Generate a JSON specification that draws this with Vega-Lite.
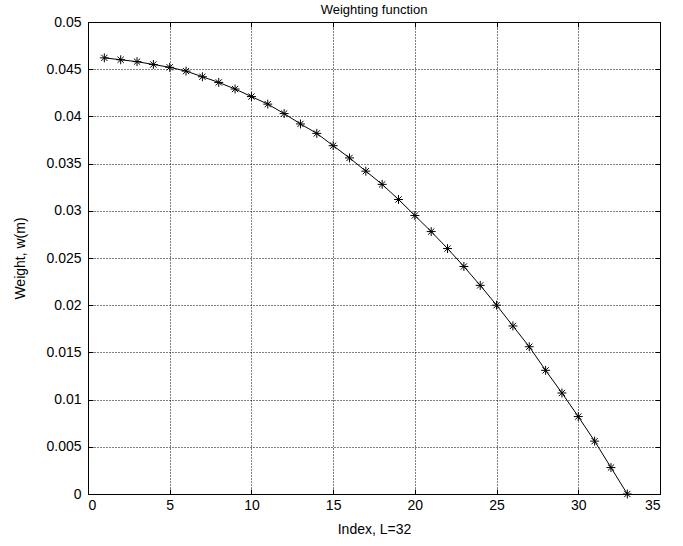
{
  "$schema": "https://vega.github.io/schema/vega-lite/v6.json",
  "width": 572,
  "height": 472,
  "autosize": {"type": "none"},
  "padding": {"left": 88, "top": 22, "right": 23, "bottom": 52},
  "background": "white",
  "title": {"text": "Weighting function", "font": "Liberation Sans", "fontSize": 13, "fontWeight": "normal", "color": "black", "offset": -2},
  "config": {
    "view": {"stroke": "black", "strokeWidth": 1},
    "axis": {
      "labelFont": "Liberation Sans", "labelFontSize": 14, "labelColor": "black",
      "titleFont": "Liberation Sans", "titleFontSize": 14, "titleFontWeight": "normal", "titleColor": "black",
      "domainColor": "black", "tickColor": "black", "tickSize": -5,
      "gridColor": "black", "gridDash": [1, 2], "gridOpacity": 1, "gridWidth": 1
    }
  },
  "resolve": {"axis": {"x": "independent", "y": "independent"}},
  "data": {"values": [
    {"m": 1, "w": 0.0462}, {"m": 2, "w": 0.0460}, {"m": 3, "w": 0.0458}, {"m": 4, "w": 0.0455},
    {"m": 5, "w": 0.0452}, {"m": 6, "w": 0.0448}, {"m": 7, "w": 0.0442}, {"m": 8, "w": 0.0436},
    {"m": 9, "w": 0.0429}, {"m": 10, "w": 0.0421}, {"m": 11, "w": 0.0413}, {"m": 12, "w": 0.0403},
    {"m": 13, "w": 0.0392}, {"m": 14, "w": 0.0382}, {"m": 15, "w": 0.0369}, {"m": 16, "w": 0.0356},
    {"m": 17, "w": 0.0342}, {"m": 18, "w": 0.0328}, {"m": 19, "w": 0.0312}, {"m": 20, "w": 0.0295},
    {"m": 21, "w": 0.0278}, {"m": 22, "w": 0.0260}, {"m": 23, "w": 0.0241}, {"m": 24, "w": 0.0221},
    {"m": 25, "w": 0.0200}, {"m": 26, "w": 0.0178}, {"m": 27, "w": 0.0156}, {"m": 28, "w": 0.0131},
    {"m": 29, "w": 0.0107}, {"m": 30, "w": 0.0082}, {"m": 31, "w": 0.0056}, {"m": 32, "w": 0.0028},
    {"m": 33, "w": 0.0}
  ]},
  "layer": [
    {
      "mark": {"type": "line", "color": "black", "strokeWidth": 1},
      "encoding": {
        "x": {"field": "m", "type": "quantitative", "scale": {"domain": [0, 35], "nice": false},
              "axis": {"title": "Index, L=32", "grid": true, "values": [0, 5, 10, 15, 20, 25, 30, 35], "labelPadding": 9, "titlePadding": 10}},
        "y": {"field": "w", "type": "quantitative", "scale": {"domain": [0, 0.05], "nice": false},
              "axis": {"title": "Weight, w(m)", "grid": true, "values": [0, 0.005, 0.01, 0.015, 0.02, 0.025, 0.03, 0.035, 0.04, 0.045, 0.05], "format": "~g", "labelPadding": 12, "titlePadding": 18}}
      }
    },
    {
      "mark": {"type": "point", "shape": "M-1,0L1,0M0,-1L0,1M-0.7,-0.7L0.7,0.7M-0.7,0.7L0.7,-0.7", "filled": false, "stroke": "black", "strokeWidth": 1, "size": 80, "opacity": 1},
      "encoding": {
        "x": {"field": "m", "type": "quantitative", "scale": {"domain": [0, 35], "nice": false},
              "axis": {"orient": "top", "title": null, "labels": false, "grid": false, "values": [0, 5, 10, 15, 20, 25, 30, 35]}},
        "y": {"field": "w", "type": "quantitative", "scale": {"domain": [0, 0.05], "nice": false},
              "axis": {"orient": "right", "title": null, "labels": false, "grid": false, "values": [0, 0.005, 0.01, 0.015, 0.02, 0.025, 0.03, 0.035, 0.04, 0.045, 0.05]}}
      }
    }
  ]
}
